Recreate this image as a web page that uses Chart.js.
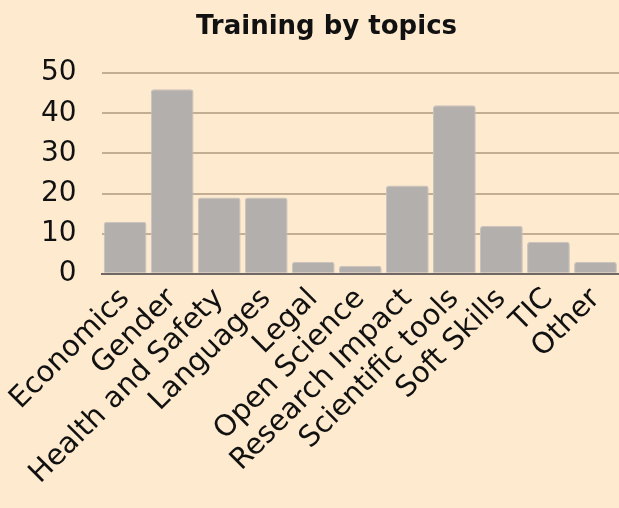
<!DOCTYPE html>
<html>
<head>
<meta charset="utf-8">
<script src="https://cdn.jsdelivr.net/npm/chart.js@4/dist/chart.umd.min.js"></script>
<style>
  html, body { margin: 0; padding: 0; background: #feebcf; }
  #wrap { width: 619px; height: 508px; }
</style>
</head>
<body>
<div id="wrap"><canvas id="chart"></canvas></div>
<script>
// data
var topics = ["Economics", "Gender", "Health and Safety", "Languages", "Legal", "Open Science",
  "Research Impact", "Scientific tools", "Soft Skills", "TIC", "Other"];
var trainings = [13, 46, 19, 19, 3, 2, 22, 42, 12, 8, 3];
var yTicks = [0, 10, 20, 30, 40, 50];

// title sits a bit right of the canvas centre in the original
var shiftTitle = {
  id: "shiftTitle",
  afterLayout: function (chart) {
    if (chart.titleBlock) chart.titleBlock.left += 18;
  }
};

var ctx = document.getElementById("chart");
new Chart(ctx, {
  type: "bar",
  data: {
    labels: topics,
    datasets: [
      {
        label: "Training",
        data: trainings,
        backgroundColor: "#b3afad",
        borderColor: "#c8c2bd",
        borderWidth: 1,
        borderRadius: 3,
        borderSkipped: "bottom",
        barPercentage: 0.91,
        categoryPercentage: 1
      }
    ]
  },
  options: {
    responsive: true,
    maintainAspectRatio: false,
    animation: false,
    layout: { padding: { left: 16, right: 0, top: 12, bottom: 9 } },
    plugins: {
      legend: { display: false },
      tooltip: { enabled: false },
      title: {
        display: true,
        text: "Training by topics",
        color: "#111",
        font: { family: "DejaVu Sans", size: 26, weight: "bold" },
        padding: { top: 0, bottom: 30 }
      }
    },
    scales: {
      x: {
        afterFit: function (scale) { scale.paddingRight = 0; },
        grid: { display: false, drawTicks: false },
        border: { display: true, color: "#6f6865", width: 2 },
        ticks: {
          color: "#111",
          font: { family: "DejaVu Sans", size: 29 },
          minRotation: 45,
          maxRotation: 45,
          autoSkip: false,
          padding: 8
        }
      },
      y: {
        min: 0,
        max: 50,
        afterBuildTicks: function (axis) {
          axis.ticks = yTicks.map(function (v) { return { value: v }; });
        },
        grid: { color: "#c3ad93", lineWidth: 2, drawTicks: false },
        border: { display: false },
        ticks: {
          color: "#111",
          font: { family: "DejaVu Sans", size: 28 },
          padding: 25
        }
      }
    }
  },
  plugins: [shiftTitle]
});
</script>
</body>
</html>
